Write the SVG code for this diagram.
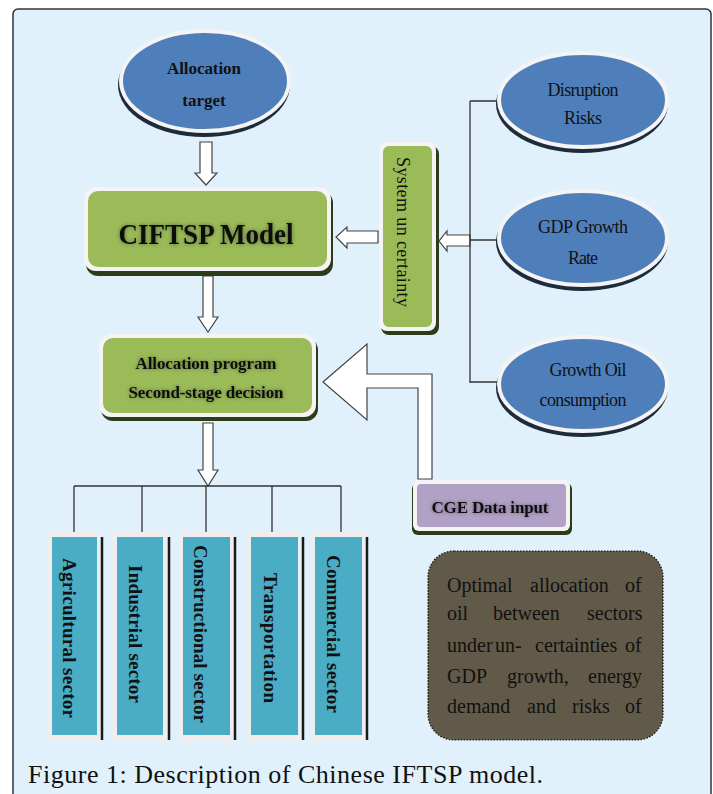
<svg xmlns="http://www.w3.org/2000/svg" width="713" height="794" viewBox="0 0 713 794">
<defs>
<style>
.bold{font-family:"Liberation Serif","Times New Roman",serif;font-weight:bold;fill:#111;}
.reg{font-family:"Liberation Serif","Times New Roman",serif;fill:#111;}
.ell{fill:#4f7fbb;stroke:#f4f4f4;stroke-width:4;}
.ellsh{fill:#1e2b3c;}
.green{fill:#9bbb59;}
.rim{fill:#f4f4f4;}
.gsh{fill:#2e3b1a;}
.outer{fill:#eeeeee;}
.teal{fill:#4aacc5;}
.sep{stroke:#1a1a1a;stroke-width:2.5;}
.ln{stroke:#333;stroke-width:1.3;fill:none;}
.harrow{fill:#ffffff;stroke:#444;stroke-width:1.2;stroke-linejoin:miter;}
</style>
<filter id="glow" x="-20%" y="-40%" width="140%" height="180%">
<feGaussianBlur in="SourceAlpha" stdDeviation="2"/>
<feComponentTransfer><feFuncA type="linear" slope="0.45"/></feComponentTransfer>
<feMerge><feMergeNode/><feMergeNode in="SourceGraphic"/></feMerge>
</filter>
</defs>
<rect x="0" y="0" width="713" height="794" fill="#ffffff"/>
<rect x="13" y="9" width="698" height="800" rx="5" fill="#e0f1fb" stroke="#333" stroke-width="1.5"/>

<g id="connectors">
<polygon class="harrow" points="200,142 212,142 212,173 217,173 206,185 195,173 200,173"/>
<polygon class="harrow" points="203,276 213,276 213,317 218,317 208,332 198,317 203,317"/>
<polygon class="harrow" points="203,423 213,423 213,470 218,470 208,486 198,470 203,470"/>
<polygon class="harrow" points="378,231 378,243 347,243 347,248 336,237 347,227 347,231"/>
<polygon class="harrow" points="470,235 470,246 447,246 447,251 439,241 447,231 447,235"/>
<polygon class="harrow" points="323,382 367,344 367,374 432,374 432,479 418,479 418,388 367,388 367,420"/>
<path class="ln" d="M470,101 V383 M470,101 H498 M470,240 H498 M470,382 H498"/>
<path class="ln" d="M74,486 H341 M74,486 V538 M142,486 V534 M206,486 V534 M272,486 V534 M341,486 V534"/>
</g>

<g id="allocation-target">
<ellipse class="ellsh" cx="204" cy="85" rx="86" ry="52"/>
<ellipse class="ell" cx="205" cy="81" rx="84" ry="50"/>
<text class="bold" x="204" y="74" font-size="17" text-anchor="middle" textLength="74">Allocation</text>
<text class="bold" x="204" y="106" font-size="17" text-anchor="middle">target</text>
</g>

<g id="ciftsp-model">
<rect class="gsh" x="86" y="191" width="247" height="85" rx="12"/>
<rect class="rim" x="84" y="187" width="247" height="84" rx="12"/>
<rect class="green" x="88" y="191" width="239" height="76" rx="10"/>
<text class="bold" x="206" y="244" font-size="29" text-anchor="middle" textLength="175" lengthAdjust="spacingAndGlyphs" filter="url(#glow)">CIFTSP Model</text>
</g>

<g id="allocation-program">
<rect class="gsh" x="101" y="338" width="217" height="83" rx="12"/>
<rect class="rim" x="99" y="334" width="217" height="83" rx="12"/>
<rect class="green" x="103" y="338" width="209" height="75" rx="10"/>
<text class="bold" x="206" y="369" font-size="17" text-anchor="middle" textLength="141" filter="url(#glow)">Allocation program</text>
<text class="bold" x="206" y="398" font-size="17" text-anchor="middle" textLength="155" filter="url(#glow)">Second-stage decision</text>
</g>

<g id="system-uncertainty">
<rect class="gsh" x="381" y="146" width="58" height="189" rx="8"/>
<rect class="rim" x="379" y="142" width="57" height="189" rx="8"/>
<rect class="green" x="383" y="146" width="49" height="181" rx="6"/>
<text class="reg" transform="translate(403,232) rotate(90)" x="0" y="6" font-size="18" text-anchor="middle" textLength="150">System un certainty</text>
</g>

<g id="disruption-risks">
<ellipse class="ellsh" cx="582" cy="104" rx="86" ry="49"/>
<ellipse class="ell" cx="583" cy="100" rx="84" ry="47"/>
<text class="reg" x="583" y="96" font-size="18" text-anchor="middle" textLength="71">Disruption</text>
<text class="reg" x="583" y="124" font-size="18" text-anchor="middle" textLength="38">Risks</text>
</g>

<g id="gdp-growth-rate">
<ellipse class="ellsh" cx="582" cy="242" rx="86" ry="49"/>
<ellipse class="ell" cx="583" cy="238" rx="84" ry="47"/>
<text class="reg" x="583" y="233" font-size="18" text-anchor="middle" textLength="90">GDP Growth</text>
<text class="reg" x="583" y="264" font-size="18" text-anchor="middle" textLength="30">Rate</text>
</g>

<g id="growth-oil-consumption">
<ellipse class="ellsh" cx="582" cy="388" rx="86" ry="49"/>
<ellipse class="ell" cx="583" cy="384" rx="84" ry="47"/>
<text class="reg" x="588" y="376" font-size="18" text-anchor="middle" textLength="77">Growth Oil</text>
<text class="reg" x="583" y="406" font-size="18" text-anchor="middle" textLength="87">consumption</text>
</g>

<g id="cge-data-input">
<rect class="gsh" x="412" y="483" width="160" height="52" rx="6"/>
<rect class="rim" x="413" y="480" width="157" height="51" rx="6"/>
<rect x="417" y="484" width="149" height="43" rx="4" fill="#b2a1c7"/>
<text class="bold" x="490" y="513" font-size="17" text-anchor="middle" textLength="117" filter="url(#glow)">CGE Data input</text>
</g>

<g id="agricultural-sector">
<rect class="outer" x="47" y="532" width="53" height="209"/>
<rect class="teal" x="52" y="537" width="45" height="198"/>
<line class="sep" x1="102" y1="537" x2="102" y2="740"/>
<text class="bold" transform="translate(69,638) rotate(90)" x="0" y="6" font-size="19" text-anchor="middle" textLength="160">Agricultural sector</text>
</g>

<g id="industrial-sector">
<rect class="outer" x="112" y="532" width="55" height="209"/>
<rect class="teal" x="117" y="537" width="46" height="198"/>
<line class="sep" x1="169" y1="537" x2="169" y2="740"/>
<text class="bold" transform="translate(135,634) rotate(90)" x="0" y="6" font-size="19" text-anchor="middle" textLength="138">Industrial sector</text>
</g>

<g id="constructional-sector">
<rect class="outer" x="179" y="532" width="54" height="209"/>
<rect class="teal" x="183" y="537" width="47" height="198"/>
<line class="sep" x1="235" y1="537" x2="235" y2="740"/>
<text class="bold" transform="translate(200,634) rotate(90)" x="0" y="6" font-size="19" text-anchor="middle" textLength="178">Constructional sector</text>
</g>

<g id="transportation">
<rect class="outer" x="247" y="532" width="53" height="209"/>
<rect class="teal" x="251" y="537" width="47" height="198"/>
<line class="sep" x1="303" y1="537" x2="303" y2="740"/>
<text class="bold" transform="translate(270,638) rotate(90)" x="0" y="6" font-size="19" text-anchor="middle" textLength="130">Transportation</text>
</g>

<g id="commercial-sector">
<rect class="outer" x="311" y="532" width="54" height="209"/>
<rect class="teal" x="315" y="537" width="47" height="198"/>
<line class="sep" x1="367" y1="537" x2="367" y2="740"/>
<text class="bold" transform="translate(333,634) rotate(90)" x="0" y="6" font-size="19" text-anchor="middle" textLength="158">Commercial sector</text>
</g>

<g id="optimal-allocation-note">
<rect x="428" y="551" width="235" height="189" rx="26" fill="#625a48" stroke="#111" stroke-width="1.2" stroke-dasharray="1.5,1.5"/>
<g class="reg" font-size="20">
<text y="592"><tspan x="447">Optimal</tspan><tspan x="530">allocation</tspan><tspan x="625">of</tspan></text>
<text y="620"><tspan x="447">oil</tspan><tspan x="493">between</tspan><tspan x="587">sectors</tspan></text>
<text y="652"><tspan x="447">under</tspan><tspan x="495">un-</tspan><tspan x="535">certainties</tspan><tspan x="625">of</tspan></text>
<text y="683"><tspan x="447">GDP</tspan><tspan x="507">growth,</tspan><tspan x="588">energy</tspan></text>
<text y="713"><tspan x="447">demand</tspan><tspan x="527">and</tspan><tspan x="572">risks</tspan><tspan x="625">of</tspan></text>
</g>
</g>

<text class="reg" x="28" y="783" font-size="26" textLength="515">Figure 1: Description of Chinese IFTSP model.</text>
</svg>
